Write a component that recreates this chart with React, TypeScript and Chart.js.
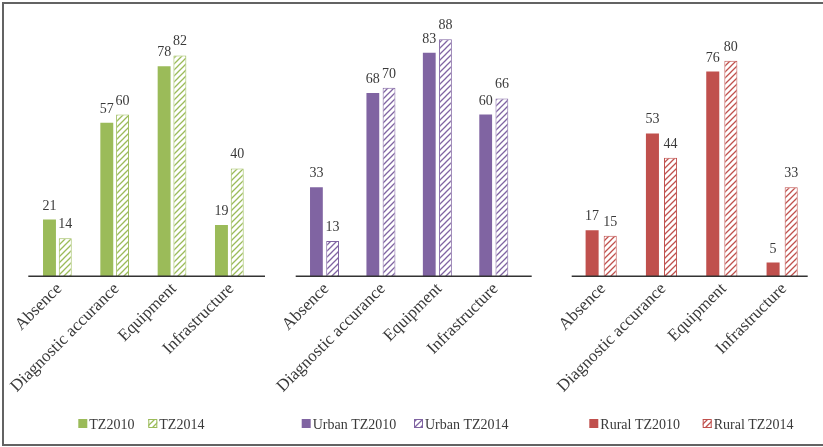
import React, { useEffect, useRef } from "react";
import { Chart, registerables } from "chart.js";

Chart.register(...registerables);

// Categories shared by the three panels
const categories = ["Absence", "Diagnostic accurance", "Equipment", "Infrastructure"];

// Overall
const overall2010 = [21, 57, 78, 19];
const overall2014 = [14, 60, 82, 40];
// Urban
const urban2010 = [33, 68, 83, 60];
const urban2014 = [13, 70, 88, 66];
// Rural
const rural2010 = [17, 53, 76, 5];
const rural2014 = [15, 44, 80, 33];

const overallNames = ["TZ2010", "TZ2014"];
const urbanNames = ["Urban TZ2010", "Urban TZ2014"];
const ruralNames = ["Rural TZ2010", "Rural TZ2014"];

const valueMax = 100;

const FONT = "'Liberation Serif', 'Times New Roman', serif";
const TEXT = "#3a3a3a";
const PAGE_H = 447;

type Panel = {
  color: string;
  solid: number[];
  hatched: number[];
  names: string[];
  canvasLeft: number;
  canvasWidth: number;
  areaLeft: number;
  areaRight: number;
  axisStart: number;
  axisEnd: number;
  catPct: number;
  barPct: number;
  legendX: number[];
};

const panels: Panel[] = [
  {
    color: "#9BBB59",
    solid: overall2010,
    hatched: overall2014,
    names: overallNames,
    canvasLeft: 4,
    canvasWidth: 268,
    areaLeft: 28.7,
    areaRight: 258,
    axisStart: 28.3,
    axisEnd: 265,
    catPct: 0.55,
    barPct: 0.82,
    legendX: [78.3, 148.3],
  },
  {
    color: "#8064A2",
    solid: urban2010,
    hatched: urban2014,
    names: urbanNames,
    canvasLeft: 272,
    canvasWidth: 273,
    areaLeft: 296.3,
    areaRight: 522,
    axisStart: 295.7,
    axisEnd: 531.7,
    catPct: 0.574,
    barPct: 0.79,
    legendX: [301.7, 414],
  },
  {
    color: "#C0504D",
    solid: rural2010,
    hatched: rural2014,
    names: ruralNames,
    canvasLeft: 545,
    canvasWidth: 278,
    areaLeft: 571,
    areaRight: 812.3,
    axisStart: 571.7,
    axisEnd: 807.7,
    catPct: 0.6,
    barPct: 0.72,
    legendX: [589.3, 702.7],
  },
];

// Diagonal "/" hatch tile used for the second series of each panel
function makeHatch(color: string): CanvasPattern | string {
  const tile = document.createElement("canvas");
  const s = 6;
  tile.width = s;
  tile.height = s;
  const c = tile.getContext("2d");
  if (!c) return color;
  c.fillStyle = "#ffffff";
  c.fillRect(0, 0, s, s);
  c.strokeStyle = color;
  c.lineWidth = 1.3;
  c.beginPath();
  c.moveTo(-1, s + 1);
  c.lineTo(s + 1, -1);
  c.moveTo(-1, 1);
  c.lineTo(1, -1);
  c.moveTo(s - 1, s + 1);
  c.lineTo(s + 1, s - 1);
  c.stroke();
  const p = c.createPattern(tile, "repeat");
  return p || color;
}

function PanelChart({ panel }: { panel: Panel }) {
  const ref = useRef<HTMLCanvasElement | null>(null);

  useEffect(() => {
    const canvas = ref.current;
    if (!canvas) return;
    const hatch = makeHatch(panel.color);
    const off = panel.canvasLeft;

    const valueLabels = {
      id: "valueLabels",
      afterDatasetsDraw(chart: any) {
        const ctx = chart.ctx;
        ctx.save();
        ctx.font = `14px ${FONT}`;
        ctx.fillStyle = TEXT;
        ctx.textAlign = "center";
        ctx.textBaseline = "alphabetic";
        chart.data.datasets.forEach((ds: any, di: number) => {
          const meta = chart.getDatasetMeta(di);
          meta.data.forEach((bar: any, i: number) => {
            ctx.fillText(String(ds.data[i]), bar.x, bar.y - 10);
          });
        });
        ctx.restore();
      },
    };

    const baseline = {
      id: "baseline",
      afterDatasetsDraw(chart: any) {
        const ctx = chart.ctx;
        const y = chart.chartArea.bottom + 0.3;
        ctx.save();
        ctx.strokeStyle = "#333333";
        ctx.lineWidth = 1.5;
        ctx.beginPath();
        ctx.moveTo(panel.axisStart - off, y);
        ctx.lineTo(panel.axisEnd - off, y);
        ctx.stroke();
        ctx.restore();
      },
    };

    const legendRow = {
      id: "legendRow",
      afterDraw(chart: any) {
        const ctx = chart.ctx;
        ctx.save();
        ctx.font = `14px ${FONT}`;
        ctx.textAlign = "left";
        ctx.textBaseline = "alphabetic";
        chart.data.datasets.forEach((ds: any, di: number) => {
          const x = panel.legendX[di] - off;
          const top = 419;
          ctx.fillStyle = ds.backgroundColor;
          ctx.fillRect(x, top, 9, 9);
          if (ds.borderWidth) {
            ctx.strokeStyle = ds.borderColor;
            ctx.lineWidth = 1;
            ctx.strokeRect(x + 0.5, top + 0.5, 8, 8);
          }
          ctx.fillStyle = TEXT;
          ctx.fillText(ds.label, x + 11, 429);
        });
        ctx.restore();
      },
    };

    const chart = new Chart(canvas, {
      type: "bar",
      data: {
        labels: categories,
        datasets: [
          {
            label: panel.names[0],
            data: panel.solid,
            backgroundColor: panel.color,
            borderWidth: 0,
            categoryPercentage: panel.catPct,
            barPercentage: panel.barPct,
          },
          {
            label: panel.names[1],
            data: panel.hatched,
            backgroundColor: hatch as any,
            borderColor: panel.color,
            borderWidth: 1,
            categoryPercentage: panel.catPct,
            barPercentage: panel.barPct,
          },
        ],
      },
      options: {
        responsive: false,
        animation: false,
        devicePixelRatio: 1,
        layout: {
          padding: {
            top: 7,
            bottom: 0,
            left: panel.areaLeft - off,
            right: off + panel.canvasWidth - panel.areaRight,
          },
        },
        plugins: {
          legend: { display: false },
          tooltip: { enabled: false },
        },
        scales: {
          y: {
            display: false,
            min: 0,
            max: valueMax,
          },
          x: {
            grid: { display: false, drawTicks: false },
            border: { display: false },
            ticks: {
              autoSkip: false,
              minRotation: 45,
              maxRotation: 45,
              padding: 3,
              labelOffset: 2,
              color: TEXT,
              font: { family: FONT, size: 17 },
            },
            afterFit: (scale: any) => {
              scale.height = PAGE_H - 276;
            },
          },
        },
      },
      plugins: [valueLabels, baseline, legendRow],
    });

    return () => chart.destroy();
  }, [panel]);

  return (
    <canvas
      ref={ref}
      width={panel.canvasWidth}
      height={PAGE_H}
      style={{ position: "absolute", left: panel.canvasLeft, top: 0 }}
    />
  );
}

export default function App() {
  return (
    <div
      style={{
        position: "fixed",
        left: 0,
        top: 0,
        width: 823,
        height: PAGE_H,
        background: "#ffffff",
        overflow: "hidden",
      }}
    >
      <div
        style={{
          position: "absolute",
          left: 2,
          top: 1.5,
          width: 840,
          height: 444,
          border: "2px solid #636363",
          boxSizing: "border-box",
        }}
      />
      {panels.map((p, i) => (
        <PanelChart key={i} panel={p} />
      ))}
    </div>
  );
}
